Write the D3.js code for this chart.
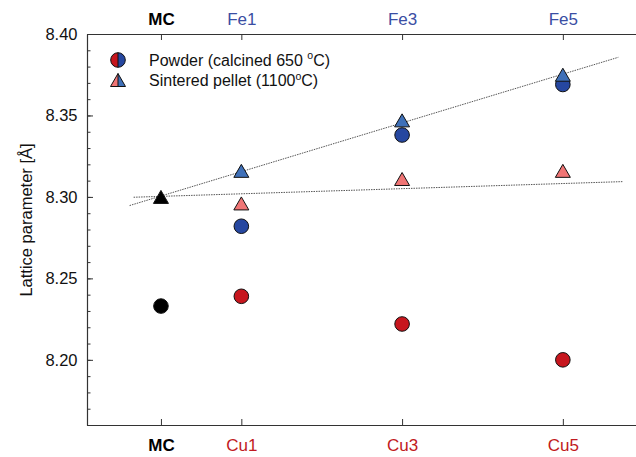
<!DOCTYPE html>
<html>
<head>
<meta charset="utf-8">
<script src="https://cdn.jsdelivr.net/npm/d3@7"></script>
<style>
  html, body { margin: 0; padding: 0; background: #fff; }
  svg { display: block; font-family: "Liberation Sans", Arial, sans-serif; }
</style>
</head>
<body>
<svg id="chart" width="636" height="457"></svg>
<script>
// Sample positions on the composition axis (MC = 0, x = 1, 3, 5)
const positions = [0, 1, 3, 5];
const topLabels = ["MC", "Fe1", "Fe3", "Fe5"];
const bottomLabels = ["MC", "Cu1", "Cu3", "Cu5"];
const yTicks = [8.20, 8.25, 8.30, 8.35, 8.40];

// Lattice parameters (Å)
const mcPowder = 8.233;
const mcSintered = 8.300;
const fePositions = [1, 3, 5];
const cuPositions = [1, 3, 5];
const powderFe = [8.282, 8.338, 8.369];
const powderCu = [8.239, 8.222, 8.200];
const sinteredFe = [8.316, 8.347, 8.375];
const sinteredCu = [8.296, 8.311, 8.316];

// Linear trend lines through the sintered pellets (end points)
const trendFeX = [-0.39, 5.69];
const trendFeY = [8.2947, 8.3857];
const trendCuX = [-0.34, 5.75];
const trendCuY = [8.2998, 8.3094];

const colors = {
  feCircle: "#2647a0",
  cuCircle: "#c7161e",
  feTriangle: "#3f70b8",
  cuTriangle: "#f07575",
  feText: "#3a4ea3",
  cuText: "#c11a21"
};

const svg = d3.select("#chart");
const plot = { left: 87, right: 636, top: 34, bottom: 425 };

const x = d3.scaleLinear().domain([-0.92, 5.91]).range([plot.left, plot.right]);
const y = d3.scaleLinear().domain([8.16, 8.40]).range([plot.bottom, plot.top]);

const axisColor = "#333";
const fontFamily = "Liberation Sans, Arial, sans-serif";

// Left axis: minor ticks then major ticks with labels
const minor = d3.range(8.16, 8.4001, 0.01).map(v => +v.toFixed(2));
svg.append("g")
  .attr("transform", `translate(${plot.left},0)`)
  .call(d3.axisLeft(y).tickValues(minor).tickSize(-3.5).tickSizeOuter(0).tickFormat(""))
  .call(g => g.selectAll("line").attr("stroke", axisColor))
  .call(g => g.select(".domain").attr("stroke", axisColor).attr("stroke-width", 1.2));

svg.append("g")
  .attr("transform", `translate(${plot.left},0)`)
  .call(d3.axisLeft(y).tickValues(yTicks).tickSize(-6).tickSizeOuter(0).tickPadding(9.5).tickFormat(d3.format(".2f")))
  .call(g => g.select(".domain").remove())
  .call(g => g.selectAll("line").attr("stroke", axisColor))
  .call(g => g.selectAll("text").attr("font-size", 16.5).attr("fill", "#111")
    .attr("font-family", fontFamily));

// Bottom axis (Cu series)
svg.append("g")
  .attr("transform", `translate(0,${plot.bottom})`)
  .call(d3.axisBottom(x).tickValues(positions).tickSize(-6).tickSizeOuter(0).tickPadding(14)
    .tickFormat((d, i) => bottomLabels[i]))
  .call(g => g.select(".domain").attr("stroke", axisColor).attr("stroke-width", 1.2))
  .call(g => g.selectAll("line").attr("stroke", axisColor))
  .call(g => g.selectAll("text").attr("font-size", 17)
    .attr("font-family", fontFamily)
    .attr("font-weight", (d, i) => i === 0 ? "bold" : "normal")
    .attr("fill", (d, i) => i === 0 ? "#000" : colors.cuText));

// Top axis (Fe series)
svg.append("g")
  .attr("transform", `translate(0,${plot.top})`)
  .call(d3.axisTop(x).tickValues(positions).tickSize(-6).tickSizeOuter(0).tickPadding(9.5)
    .tickFormat((d, i) => topLabels[i]))
  .call(g => g.select(".domain").attr("stroke", axisColor).attr("stroke-width", 1.2))
  .call(g => g.selectAll("line").attr("stroke", axisColor))
  .call(g => g.selectAll("text").attr("font-size", 17)
    .attr("font-family", fontFamily)
    .attr("font-weight", (d, i) => i === 0 ? "bold" : "normal")
    .attr("fill", (d, i) => i === 0 ? "#000" : colors.feText));

// Y axis title
svg.append("text")
  .attr("transform", `translate(32,220) rotate(-90)`)
  .attr("text-anchor", "middle")
  .attr("font-size", 16.5)
  .attr("fill", "#111")
  .text("Lattice parameter [Å]");

// Trend lines
const line = d3.line().x(d => x(d[0])).y(d => y(d[1]));
[[trendFeX, trendFeY], [trendCuX, trendCuY]].forEach(([xs, ys]) => {
  svg.append("path")
    .datum(xs.map((v, i) => [v, ys[i]]))
    .attr("d", line)
    .attr("fill", "none")
    .attr("stroke", "#555")
    .attr("stroke-width", 1)
    .attr("stroke-dasharray", "1.5,1");
});

// Marker helpers
const R = 7.3;
const triW = 15, triH = 13;
function triPath(cx, cy) {
  return `M${cx},${cy - triH / 2}L${cx + triW / 2},${cy + triH / 2}L${cx - triW / 2},${cy + triH / 2}Z`;
}

function circles(xs, ys, fill) {
  svg.append("g").selectAll("circle")
    .data(xs.map((v, i) => [v, ys[i]]))
    .join("circle")
    .attr("cx", d => x(d[0]))
    .attr("cy", d => y(d[1]))
    .attr("r", R)
    .attr("fill", fill)
    .attr("stroke", "#111")
    .attr("stroke-width", 1);
}
function triangles(xs, ys, fill) {
  svg.append("g").selectAll("path")
    .data(xs.map((v, i) => [v, ys[i]]))
    .join("path")
    .attr("d", d => triPath(x(d[0]), y(d[1])))
    .attr("fill", fill)
    .attr("stroke", "#111")
    .attr("stroke-width", 1)
    .attr("stroke-linejoin", "miter");
}

// Powder (circles)
circles([0], [mcPowder], "#000");
circles(cuPositions, powderCu, colors.cuCircle);
circles(fePositions, powderFe, colors.feCircle);
// Sintered pellets (triangles)
triangles(cuPositions, sinteredCu, colors.cuTriangle);
triangles(fePositions, sinteredFe, colors.feTriangle);
triangles([0], [mcSintered], "#000");

// Legend
const lg = svg.append("g");
const lx = 118, ly1 = 60, ly2 = 80;
// split circle: red left, blue right
lg.append("path")
  .attr("d", `M${lx},${ly1 - R}A${R},${R} 0 0,0 ${lx},${ly1 + R}Z`)
  .attr("fill", colors.cuCircle);
lg.append("path")
  .attr("d", `M${lx},${ly1 - R}A${R},${R} 0 0,1 ${lx},${ly1 + R}Z`)
  .attr("fill", colors.feCircle);
lg.append("circle").attr("cx", lx).attr("cy", ly1).attr("r", R)
  .attr("fill", "none").attr("stroke", "#111").attr("stroke-width", 1);
lg.append("line").attr("x1", lx).attr("x2", lx).attr("y1", ly1 - R).attr("y2", ly1 + R)
  .attr("stroke", "#111").attr("stroke-width", 1);
// split triangle: pink left, blue right
lg.append("path")
  .attr("d", `M${lx},${ly2 - triH / 2}L${lx},${ly2 + triH / 2}L${lx - triW / 2},${ly2 + triH / 2}Z`)
  .attr("fill", colors.cuTriangle);
lg.append("path")
  .attr("d", `M${lx},${ly2 - triH / 2}L${lx + triW / 2},${ly2 + triH / 2}L${lx},${ly2 + triH / 2}Z`)
  .attr("fill", colors.feTriangle);
lg.append("path").attr("d", triPath(lx, ly2))
  .attr("fill", "none").attr("stroke", "#111").attr("stroke-width", 1);
lg.append("line").attr("x1", lx).attr("x2", lx).attr("y1", ly2 - triH / 2).attr("y2", ly2 + triH / 2)
  .attr("stroke", "#111").attr("stroke-width", 1);

const t1 = lg.append("text").attr("x", 149).attr("y", ly1 + 5.5).attr("font-size", 16).attr("fill", "#111");
t1.append("tspan").text("Powder (calcined 650 ");
t1.append("tspan").attr("font-size", 10.5).attr("dy", -6.5).text("o");
t1.append("tspan").attr("dy", 6.5).text("C)");

const t2 = lg.append("text").attr("x", 149).attr("y", ly2 + 6).attr("font-size", 16).attr("fill", "#111");
t2.append("tspan").text("Sintered pellet (1100");
t2.append("tspan").attr("font-size", 10.5).attr("dy", -6.5).text("o");
t2.append("tspan").attr("dy", 6.5).text("C)");
</script>
</body>
</html>
